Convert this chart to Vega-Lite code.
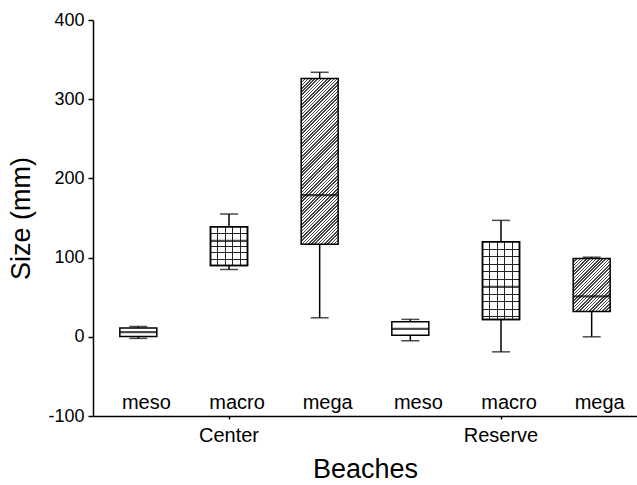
{
  "$schema": "https://vega.github.io/schema/vega-lite/v6.json",
  "width": 544,
  "height": 396,
  "autosize": "none",
  "padding": {"left": 93, "top": 20, "right": 0, "bottom": 69},
  "background": "white",
  "data": {
    "values": [
      {"beach": "Center", "size": "meso", "key": "Center meso", "min": -2, "q1": 0.5, "median": 6, "q3": 11, "max": 13},
      {"beach": "Center", "size": "macro", "key": "Center macro", "min": 85, "q1": 90, "median": 121, "q3": 139, "max": 155},
      {"beach": "Center", "size": "mega", "key": "Center mega", "min": 24, "q1": 117, "median": 179, "q3": 326, "max": 334},
      {"beach": "Reserve", "size": "meso", "key": "Reserve meso", "min": -5, "q1": 2, "median": 10, "q3": 19, "max": 22},
      {"beach": "Reserve", "size": "macro", "key": "Reserve macro", "min": -19, "q1": 22, "median": 63, "q3": 120, "max": 147},
      {"beach": "Reserve", "size": "mega", "key": "Reserve mega", "min": 0, "q1": 32, "median": 51, "q3": 99, "max": 100.5}
    ]
  },
  "encoding": {
    "x": {
      "field": "key",
      "type": "nominal",
      "sort": ["Center meso", "Center macro", "Center mega", "Reserve meso", "Reserve macro", "Reserve mega"],
      "scale": {"domain": ["Center meso", "Center macro", "Center mega", "Reserve meso", "Reserve macro", "Reserve mega"], "paddingInner": 0, "paddingOuter": 0},
      "axis": {
        "title": "Beaches",
        "values": ["Center macro", "Reserve macro"],
        "labelExpr": "datum.value == 'Center macro' ? 'Center' : 'Reserve'",
        "labelAngle": 0,
        "labelFontSize": 20,
        "labelPadding": 6,
        "tickSize": 3,
        "titleFontSize": 27,
        "titlePadding": 11
      }
    }
  },
  "layer": [
    {
      "mark": {"type": "rule", "color": "black", "strokeWidth": 1.5},
      "encoding": {
        "y": {"field": "min", "type": "quantitative", "scale": {"domain": [-100, 400], "nice": false},
          "axis": {"title": "Size (mm)", "values": [-100, 0, 100, 200, 300, 400], "labelExpr": "datum.value + ''", "labelFontSize": 18, "tickSize": 5, "labelPadding": 4, "titleFontSize": 27, "titlePadding": 12}},
        "y2": {"field": "max"}
      }
    },
    {
      "mark": {"type": "tick", "color": "black", "size": 18, "thickness": 1.5},
      "encoding": {"y": {"field": "min", "type": "quantitative", "scale": {"domain": [-100, 400], "nice": false}}}
    },
    {
      "mark": {"type": "tick", "color": "black", "size": 18, "thickness": 1.5},
      "encoding": {"y": {"field": "max", "type": "quantitative", "scale": {"domain": [-100, 400], "nice": false}}}
    },
    {
      "transform": [{"filter": "datum.size === 'meso'"}],
      "mark": {"type": "bar", "size": 37, "fill": "white", "stroke": "black", "strokeWidth": 1.5},
      "encoding": {"y": {"field": "q1", "type": "quantitative", "scale": {"domain": [-100, 400], "nice": false}}, "y2": {"field": "q3"}}
    },
    {
      "transform": [{"filter": "datum.key === 'Center macro'"}],
      "mark": {"type": "bar", "size": 37, "stroke": "black", "strokeWidth": 1.5,
        "fill": {"gradient": "linear", "x1": 0, "y1": 0, "x2": 0, "y2": 1, "stops": [
          {"offset": 0, "color": "#fff"}, {"offset": 0.152, "color": "#fff"}, {"offset": 0.152, "color": "#222"}, {"offset": 0.178, "color": "#222"}, {"offset": 0.178, "color": "#fff"},
          {"offset": 0.492, "color": "#fff"}, {"offset": 0.492, "color": "#222"}, {"offset": 0.518, "color": "#222"}, {"offset": 0.518, "color": "#fff"},
          {"offset": 0.662, "color": "#fff"}, {"offset": 0.662, "color": "#222"}, {"offset": 0.688, "color": "#222"}, {"offset": 0.688, "color": "#fff"},
          {"offset": 0.832, "color": "#fff"}, {"offset": 0.832, "color": "#222"}, {"offset": 0.858, "color": "#222"}, {"offset": 0.858, "color": "#fff"},
          {"offset": 1, "color": "#fff"}]}},
      "encoding": {"y": {"field": "q1", "type": "quantitative", "scale": {"domain": [-100, 400], "nice": false}}, "y2": {"field": "q3"}}
    },
    {
      "transform": [{"filter": "datum.key === 'Reserve macro'"}],
      "mark": {"type": "bar", "size": 37, "stroke": "black", "strokeWidth": 1.5,
        "fill": {"gradient": "linear", "x1": 0, "y1": 0, "x2": 0, "y2": 1, "stops": [
          {"offset": 0, "color": "#fff"},
          {"offset": 0.0901, "color": "#fff"}, {"offset": 0.0901, "color": "#222"}, {"offset": 0.1031, "color": "#222"}, {"offset": 0.1031, "color": "#fff"},
          {"offset": 0.1866, "color": "#fff"}, {"offset": 0.1866, "color": "#222"}, {"offset": 0.1996, "color": "#222"}, {"offset": 0.1996, "color": "#fff"},
          {"offset": 0.2831, "color": "#fff"}, {"offset": 0.2831, "color": "#222"}, {"offset": 0.2961, "color": "#222"}, {"offset": 0.2961, "color": "#fff"},
          {"offset": 0.3796, "color": "#fff"}, {"offset": 0.3796, "color": "#222"}, {"offset": 0.3926, "color": "#222"}, {"offset": 0.3926, "color": "#fff"},
          {"offset": 0.4761, "color": "#fff"}, {"offset": 0.4761, "color": "#222"}, {"offset": 0.4891, "color": "#222"}, {"offset": 0.4891, "color": "#fff"},
          {"offset": 0.6691, "color": "#fff"}, {"offset": 0.6691, "color": "#222"}, {"offset": 0.6821, "color": "#222"}, {"offset": 0.6821, "color": "#fff"},
          {"offset": 0.7656, "color": "#fff"}, {"offset": 0.7656, "color": "#222"}, {"offset": 0.7786, "color": "#222"}, {"offset": 0.7786, "color": "#fff"},
          {"offset": 0.8621, "color": "#fff"}, {"offset": 0.8621, "color": "#222"}, {"offset": 0.8751, "color": "#222"}, {"offset": 0.8751, "color": "#fff"},
          {"offset": 0.9586, "color": "#fff"}, {"offset": 0.9586, "color": "#222"}, {"offset": 0.9716, "color": "#222"}, {"offset": 0.9716, "color": "#fff"},
          {"offset": 1, "color": "#fff"}]}},
      "encoding": {"y": {"field": "q1", "type": "quantitative", "scale": {"domain": [-100, 400], "nice": false}}, "y2": {"field": "q3"}}
    },
    {
      "transform": [{"filter": "datum.size === 'macro'"}],
      "mark": {"type": "bar", "size": 37, "stroke": "black", "strokeWidth": 1.5,
        "fill": {"gradient": "linear", "x1": 0, "y1": 0, "x2": 1, "y2": 0, "stops": [
          {"offset": 0, "color": "rgba(0,0,0,0)"},
          {"offset": 0.186, "color": "rgba(0,0,0,0)"}, {"offset": 0.186, "color": "#222"}, {"offset": 0.214, "color": "#222"}, {"offset": 0.214, "color": "rgba(0,0,0,0)"},
          {"offset": 0.386, "color": "rgba(0,0,0,0)"}, {"offset": 0.386, "color": "#222"}, {"offset": 0.414, "color": "#222"}, {"offset": 0.414, "color": "rgba(0,0,0,0)"},
          {"offset": 0.586, "color": "rgba(0,0,0,0)"}, {"offset": 0.586, "color": "#222"}, {"offset": 0.614, "color": "#222"}, {"offset": 0.614, "color": "rgba(0,0,0,0)"},
          {"offset": 0.786, "color": "rgba(0,0,0,0)"}, {"offset": 0.786, "color": "#222"}, {"offset": 0.814, "color": "#222"}, {"offset": 0.814, "color": "rgba(0,0,0,0)"},
          {"offset": 1, "color": "rgba(0,0,0,0)"}]}},
      "encoding": {"y": {"field": "q1", "type": "quantitative", "scale": {"domain": [-100, 400], "nice": false}}, "y2": {"field": "q3"}}
    },
    {
      "transform": [{"filter": "datum.key === 'Center mega'"}],
      "mark": {"type": "bar", "size": 37, "stroke": "black", "strokeWidth": 1.5,
        "fill": {"gradient": "linear", "x1": 0, "y1": 0, "x2": 0.2605, "y2": 1.1653, "stops": [
          {"offset": 0, "color": "#444"}, {"offset": 0.0075, "color": "#444"}, {"offset": 0.0075, "color": "#fff"}, {"offset": 0.016, "color": "#fff"},
          {"offset": 0.016, "color": "#444"}, {"offset": 0.0235, "color": "#444"}, {"offset": 0.0235, "color": "#fff"}, {"offset": 0.032, "color": "#fff"},
          {"offset": 0.032, "color": "#444"}, {"offset": 0.0395, "color": "#444"}, {"offset": 0.0395, "color": "#fff"}, {"offset": 0.048, "color": "#fff"},
          {"offset": 0.048, "color": "#444"}, {"offset": 0.0555, "color": "#444"}, {"offset": 0.0555, "color": "#fff"}, {"offset": 0.064, "color": "#fff"},
          {"offset": 0.064, "color": "#444"}, {"offset": 0.0715, "color": "#444"}, {"offset": 0.0715, "color": "#fff"}, {"offset": 0.08, "color": "#fff"},
          {"offset": 0.08, "color": "#444"}, {"offset": 0.0875, "color": "#444"}, {"offset": 0.0875, "color": "#fff"}, {"offset": 0.096, "color": "#fff"},
          {"offset": 0.096, "color": "#444"}, {"offset": 0.1035, "color": "#444"}, {"offset": 0.1035, "color": "#fff"}, {"offset": 0.112, "color": "#fff"},
          {"offset": 0.112, "color": "#444"}, {"offset": 0.1195, "color": "#444"}, {"offset": 0.1195, "color": "#fff"}, {"offset": 0.128, "color": "#fff"},
          {"offset": 0.128, "color": "#444"}, {"offset": 0.1355, "color": "#444"}, {"offset": 0.1355, "color": "#fff"}, {"offset": 0.144, "color": "#fff"},
          {"offset": 0.144, "color": "#444"}, {"offset": 0.1515, "color": "#444"}, {"offset": 0.1515, "color": "#fff"}, {"offset": 0.16, "color": "#fff"},
          {"offset": 0.16, "color": "#444"}, {"offset": 0.1675, "color": "#444"}, {"offset": 0.1675, "color": "#fff"}, {"offset": 0.176, "color": "#fff"},
          {"offset": 0.176, "color": "#444"}, {"offset": 0.1835, "color": "#444"}, {"offset": 0.1835, "color": "#fff"}, {"offset": 0.192, "color": "#fff"},
          {"offset": 0.192, "color": "#444"}, {"offset": 0.1995, "color": "#444"}, {"offset": 0.1995, "color": "#fff"}, {"offset": 0.208, "color": "#fff"},
          {"offset": 0.208, "color": "#444"}, {"offset": 0.2155, "color": "#444"}, {"offset": 0.2155, "color": "#fff"}, {"offset": 0.224, "color": "#fff"},
          {"offset": 0.224, "color": "#444"}, {"offset": 0.2315, "color": "#444"}, {"offset": 0.2315, "color": "#fff"}, {"offset": 0.24, "color": "#fff"},
          {"offset": 0.24, "color": "#444"}, {"offset": 0.2475, "color": "#444"}, {"offset": 0.2475, "color": "#fff"}, {"offset": 0.256, "color": "#fff"},
          {"offset": 0.256, "color": "#444"}, {"offset": 0.2635, "color": "#444"}, {"offset": 0.2635, "color": "#fff"}, {"offset": 0.272, "color": "#fff"},
          {"offset": 0.272, "color": "#444"}, {"offset": 0.2795, "color": "#444"}, {"offset": 0.2795, "color": "#fff"}, {"offset": 0.288, "color": "#fff"},
          {"offset": 0.288, "color": "#444"}, {"offset": 0.2955, "color": "#444"}, {"offset": 0.2955, "color": "#fff"}, {"offset": 0.304, "color": "#fff"},
          {"offset": 0.304, "color": "#444"}, {"offset": 0.3115, "color": "#444"}, {"offset": 0.3115, "color": "#fff"}, {"offset": 0.32, "color": "#fff"},
          {"offset": 0.32, "color": "#444"}, {"offset": 0.3275, "color": "#444"}, {"offset": 0.3275, "color": "#fff"}, {"offset": 0.336, "color": "#fff"},
          {"offset": 0.336, "color": "#444"}, {"offset": 0.3435, "color": "#444"}, {"offset": 0.3435, "color": "#fff"}, {"offset": 0.352, "color": "#fff"},
          {"offset": 0.352, "color": "#444"}, {"offset": 0.3595, "color": "#444"}, {"offset": 0.3595, "color": "#fff"}, {"offset": 0.368, "color": "#fff"},
          {"offset": 0.368, "color": "#444"}, {"offset": 0.3755, "color": "#444"}, {"offset": 0.3755, "color": "#fff"}, {"offset": 0.384, "color": "#fff"},
          {"offset": 0.384, "color": "#444"}, {"offset": 0.3915, "color": "#444"}, {"offset": 0.3915, "color": "#fff"}, {"offset": 0.4, "color": "#fff"},
          {"offset": 0.4, "color": "#444"}, {"offset": 0.4075, "color": "#444"}, {"offset": 0.4075, "color": "#fff"}, {"offset": 0.416, "color": "#fff"},
          {"offset": 0.416, "color": "#444"}, {"offset": 0.4235, "color": "#444"}, {"offset": 0.4235, "color": "#fff"}, {"offset": 0.432, "color": "#fff"},
          {"offset": 0.432, "color": "#444"}, {"offset": 0.4395, "color": "#444"}, {"offset": 0.4395, "color": "#fff"}, {"offset": 0.448, "color": "#fff"},
          {"offset": 0.448, "color": "#444"}, {"offset": 0.4555, "color": "#444"}, {"offset": 0.4555, "color": "#fff"}, {"offset": 0.464, "color": "#fff"},
          {"offset": 0.464, "color": "#444"}, {"offset": 0.4715, "color": "#444"}, {"offset": 0.4715, "color": "#fff"}, {"offset": 0.48, "color": "#fff"},
          {"offset": 0.48, "color": "#444"}, {"offset": 0.4875, "color": "#444"}, {"offset": 0.4875, "color": "#fff"}, {"offset": 0.496, "color": "#fff"},
          {"offset": 0.496, "color": "#444"}, {"offset": 0.5035, "color": "#444"}, {"offset": 0.5035, "color": "#fff"}, {"offset": 0.512, "color": "#fff"},
          {"offset": 0.512, "color": "#444"}, {"offset": 0.5195, "color": "#444"}, {"offset": 0.5195, "color": "#fff"}, {"offset": 0.528, "color": "#fff"},
          {"offset": 0.528, "color": "#444"}, {"offset": 0.5355, "color": "#444"}, {"offset": 0.5355, "color": "#fff"}, {"offset": 0.544, "color": "#fff"},
          {"offset": 0.544, "color": "#444"}, {"offset": 0.5515, "color": "#444"}, {"offset": 0.5515, "color": "#fff"}, {"offset": 0.56, "color": "#fff"},
          {"offset": 0.56, "color": "#444"}, {"offset": 0.5675, "color": "#444"}, {"offset": 0.5675, "color": "#fff"}, {"offset": 0.576, "color": "#fff"},
          {"offset": 0.576, "color": "#444"}, {"offset": 0.5835, "color": "#444"}, {"offset": 0.5835, "color": "#fff"}, {"offset": 0.592, "color": "#fff"},
          {"offset": 0.592, "color": "#444"}, {"offset": 0.5995, "color": "#444"}, {"offset": 0.5995, "color": "#fff"}, {"offset": 0.608, "color": "#fff"},
          {"offset": 0.608, "color": "#444"}, {"offset": 0.6155, "color": "#444"}, {"offset": 0.6155, "color": "#fff"}, {"offset": 0.624, "color": "#fff"},
          {"offset": 0.624, "color": "#444"}, {"offset": 0.6315, "color": "#444"}, {"offset": 0.6315, "color": "#fff"}, {"offset": 0.64, "color": "#fff"},
          {"offset": 0.64, "color": "#444"}, {"offset": 0.6475, "color": "#444"}, {"offset": 0.6475, "color": "#fff"}, {"offset": 0.656, "color": "#fff"},
          {"offset": 0.656, "color": "#444"}, {"offset": 0.6635, "color": "#444"}, {"offset": 0.6635, "color": "#fff"}, {"offset": 0.672, "color": "#fff"},
          {"offset": 0.672, "color": "#444"}, {"offset": 0.6795, "color": "#444"}, {"offset": 0.6795, "color": "#fff"}, {"offset": 0.688, "color": "#fff"},
          {"offset": 0.688, "color": "#444"}, {"offset": 0.6955, "color": "#444"}, {"offset": 0.6955, "color": "#fff"}, {"offset": 0.704, "color": "#fff"},
          {"offset": 0.704, "color": "#444"}, {"offset": 0.7115, "color": "#444"}, {"offset": 0.7115, "color": "#fff"}, {"offset": 0.72, "color": "#fff"},
          {"offset": 0.72, "color": "#444"}, {"offset": 0.7275, "color": "#444"}, {"offset": 0.7275, "color": "#fff"}, {"offset": 0.736, "color": "#fff"},
          {"offset": 0.736, "color": "#444"}, {"offset": 0.7435, "color": "#444"}, {"offset": 0.7435, "color": "#fff"}, {"offset": 0.752, "color": "#fff"},
          {"offset": 0.752, "color": "#444"}, {"offset": 0.7595, "color": "#444"}, {"offset": 0.7595, "color": "#fff"}, {"offset": 0.768, "color": "#fff"},
          {"offset": 0.768, "color": "#444"}, {"offset": 0.7755, "color": "#444"}, {"offset": 0.7755, "color": "#fff"}, {"offset": 0.784, "color": "#fff"},
          {"offset": 0.784, "color": "#444"}, {"offset": 0.7915, "color": "#444"}, {"offset": 0.7915, "color": "#fff"}, {"offset": 0.8, "color": "#fff"},
          {"offset": 0.8, "color": "#444"}, {"offset": 0.8075, "color": "#444"}, {"offset": 0.8075, "color": "#fff"}, {"offset": 0.816, "color": "#fff"},
          {"offset": 0.816, "color": "#444"}, {"offset": 0.8235, "color": "#444"}, {"offset": 0.8235, "color": "#fff"}, {"offset": 0.832, "color": "#fff"},
          {"offset": 0.832, "color": "#444"}, {"offset": 0.8395, "color": "#444"}, {"offset": 0.8395, "color": "#fff"}, {"offset": 0.848, "color": "#fff"},
          {"offset": 0.848, "color": "#444"}, {"offset": 0.8555, "color": "#444"}, {"offset": 0.8555, "color": "#fff"}, {"offset": 0.864, "color": "#fff"},
          {"offset": 0.864, "color": "#444"}, {"offset": 0.8715, "color": "#444"}, {"offset": 0.8715, "color": "#fff"}, {"offset": 0.88, "color": "#fff"},
          {"offset": 0.88, "color": "#444"}, {"offset": 0.8875, "color": "#444"}, {"offset": 0.8875, "color": "#fff"}, {"offset": 0.896, "color": "#fff"},
          {"offset": 0.896, "color": "#444"}, {"offset": 0.9035, "color": "#444"}, {"offset": 0.9035, "color": "#fff"}, {"offset": 0.912, "color": "#fff"},
          {"offset": 0.912, "color": "#444"}, {"offset": 0.9195, "color": "#444"}, {"offset": 0.9195, "color": "#fff"}, {"offset": 0.928, "color": "#fff"},
          {"offset": 0.928, "color": "#444"}, {"offset": 0.9355, "color": "#444"}, {"offset": 0.9355, "color": "#fff"}, {"offset": 0.944, "color": "#fff"},
          {"offset": 0.944, "color": "#444"}, {"offset": 0.9515, "color": "#444"}, {"offset": 0.9515, "color": "#fff"}, {"offset": 0.96, "color": "#fff"},
          {"offset": 0.96, "color": "#444"}, {"offset": 0.9675, "color": "#444"}, {"offset": 0.9675, "color": "#fff"}, {"offset": 0.976, "color": "#fff"},
          {"offset": 0.976, "color": "#444"}, {"offset": 0.9835, "color": "#444"}, {"offset": 0.9835, "color": "#fff"}, {"offset": 0.992, "color": "#fff"},
          {"offset": 0.992, "color": "#444"}, {"offset": 0.9995, "color": "#444"}, {"offset": 0.9995, "color": "#fff"}, {"offset": 1, "color": "#fff"}]}},
      "encoding": {"y": {"field": "q1", "type": "quantitative", "scale": {"domain": [-100, 400], "nice": false}}, "y2": {"field": "q3"}}
    },
    {
      "transform": [{"filter": "datum.key === 'Reserve mega'"}],
      "mark": {"type": "bar", "size": 37, "stroke": "black", "strokeWidth": 1.5,
        "fill": {"gradient": "linear", "x1": 0, "y1": 0, "x2": 0.7963, "y2": 1.142, "stops": [
          {"offset": 0, "color": "#444"}, {"offset": 0.0169, "color": "#444"}, {"offset": 0.0169, "color": "#fff"}, {"offset": 0.036, "color": "#fff"},
          {"offset": 0.036, "color": "#444"}, {"offset": 0.0529, "color": "#444"}, {"offset": 0.0529, "color": "#fff"}, {"offset": 0.072, "color": "#fff"},
          {"offset": 0.072, "color": "#444"}, {"offset": 0.0889, "color": "#444"}, {"offset": 0.0889, "color": "#fff"}, {"offset": 0.108, "color": "#fff"},
          {"offset": 0.108, "color": "#444"}, {"offset": 0.1249, "color": "#444"}, {"offset": 0.1249, "color": "#fff"}, {"offset": 0.144, "color": "#fff"},
          {"offset": 0.144, "color": "#444"}, {"offset": 0.1609, "color": "#444"}, {"offset": 0.1609, "color": "#fff"}, {"offset": 0.18, "color": "#fff"},
          {"offset": 0.18, "color": "#444"}, {"offset": 0.1969, "color": "#444"}, {"offset": 0.1969, "color": "#fff"}, {"offset": 0.216, "color": "#fff"},
          {"offset": 0.216, "color": "#444"}, {"offset": 0.2329, "color": "#444"}, {"offset": 0.2329, "color": "#fff"}, {"offset": 0.252, "color": "#fff"},
          {"offset": 0.252, "color": "#444"}, {"offset": 0.2689, "color": "#444"}, {"offset": 0.2689, "color": "#fff"}, {"offset": 0.288, "color": "#fff"},
          {"offset": 0.288, "color": "#444"}, {"offset": 0.3049, "color": "#444"}, {"offset": 0.3049, "color": "#fff"}, {"offset": 0.324, "color": "#fff"},
          {"offset": 0.324, "color": "#444"}, {"offset": 0.3409, "color": "#444"}, {"offset": 0.3409, "color": "#fff"}, {"offset": 0.36, "color": "#fff"},
          {"offset": 0.36, "color": "#444"}, {"offset": 0.3769, "color": "#444"}, {"offset": 0.3769, "color": "#fff"}, {"offset": 0.396, "color": "#fff"},
          {"offset": 0.396, "color": "#444"}, {"offset": 0.4129, "color": "#444"}, {"offset": 0.4129, "color": "#fff"}, {"offset": 0.432, "color": "#fff"},
          {"offset": 0.432, "color": "#444"}, {"offset": 0.4489, "color": "#444"}, {"offset": 0.4489, "color": "#fff"}, {"offset": 0.468, "color": "#fff"},
          {"offset": 0.468, "color": "#444"}, {"offset": 0.4849, "color": "#444"}, {"offset": 0.4849, "color": "#fff"}, {"offset": 0.504, "color": "#fff"},
          {"offset": 0.504, "color": "#444"}, {"offset": 0.5209, "color": "#444"}, {"offset": 0.5209, "color": "#fff"}, {"offset": 0.54, "color": "#fff"},
          {"offset": 0.54, "color": "#444"}, {"offset": 0.5569, "color": "#444"}, {"offset": 0.5569, "color": "#fff"}, {"offset": 0.576, "color": "#fff"},
          {"offset": 0.576, "color": "#444"}, {"offset": 0.5929, "color": "#444"}, {"offset": 0.5929, "color": "#fff"}, {"offset": 0.612, "color": "#fff"},
          {"offset": 0.612, "color": "#444"}, {"offset": 0.6289, "color": "#444"}, {"offset": 0.6289, "color": "#fff"}, {"offset": 0.648, "color": "#fff"},
          {"offset": 0.648, "color": "#444"}, {"offset": 0.6649, "color": "#444"}, {"offset": 0.6649, "color": "#fff"}, {"offset": 0.684, "color": "#fff"},
          {"offset": 0.684, "color": "#444"}, {"offset": 0.7009, "color": "#444"}, {"offset": 0.7009, "color": "#fff"}, {"offset": 0.72, "color": "#fff"},
          {"offset": 0.72, "color": "#444"}, {"offset": 0.7369, "color": "#444"}, {"offset": 0.7369, "color": "#fff"}, {"offset": 0.756, "color": "#fff"},
          {"offset": 0.756, "color": "#444"}, {"offset": 0.7729, "color": "#444"}, {"offset": 0.7729, "color": "#fff"}, {"offset": 0.792, "color": "#fff"},
          {"offset": 0.792, "color": "#444"}, {"offset": 0.8089, "color": "#444"}, {"offset": 0.8089, "color": "#fff"}, {"offset": 0.828, "color": "#fff"},
          {"offset": 0.828, "color": "#444"}, {"offset": 0.8449, "color": "#444"}, {"offset": 0.8449, "color": "#fff"}, {"offset": 0.864, "color": "#fff"},
          {"offset": 0.864, "color": "#444"}, {"offset": 0.8809, "color": "#444"}, {"offset": 0.8809, "color": "#fff"}, {"offset": 0.9, "color": "#fff"},
          {"offset": 0.9, "color": "#444"}, {"offset": 0.9169, "color": "#444"}, {"offset": 0.9169, "color": "#fff"}, {"offset": 0.936, "color": "#fff"},
          {"offset": 0.936, "color": "#444"}, {"offset": 0.9529, "color": "#444"}, {"offset": 0.9529, "color": "#fff"}, {"offset": 0.972, "color": "#fff"},
          {"offset": 0.972, "color": "#444"}, {"offset": 0.9889, "color": "#444"}, {"offset": 0.9889, "color": "#fff"}, {"offset": 1, "color": "#fff"}]}},
      "encoding": {"y": {"field": "q1", "type": "quantitative", "scale": {"domain": [-100, 400], "nice": false}}, "y2": {"field": "q3"}}
    },
    {
      "mark": {"type": "tick", "color": "black", "size": 37, "thickness": 2.2},
      "encoding": {"y": {"field": "median", "type": "quantitative", "scale": {"domain": [-100, 400], "nice": false}}}
    },
    {
      "mark": {"type": "text", "fontSize": 20, "color": "black", "dx": 8, "baseline": "middle", "font": "Liberation Sans"},
      "encoding": {"y": {"datum": -83, "type": "quantitative", "scale": {"domain": [-100, 400], "nice": false}}, "text": {"field": "size"}}
    }
  ],
  "config": {
    "view": {"stroke": null},
    "font": "Liberation Sans",
    "axis": {
      "domainColor": "black", "domainWidth": 1.5, "tickColor": "black", "tickWidth": 1.5,
      "labelColor": "black", "titleColor": "black", "grid": false,
      "labelFont": "Liberation Sans", "titleFont": "Liberation Sans", "titleFontWeight": "normal"
    }
  }
}
